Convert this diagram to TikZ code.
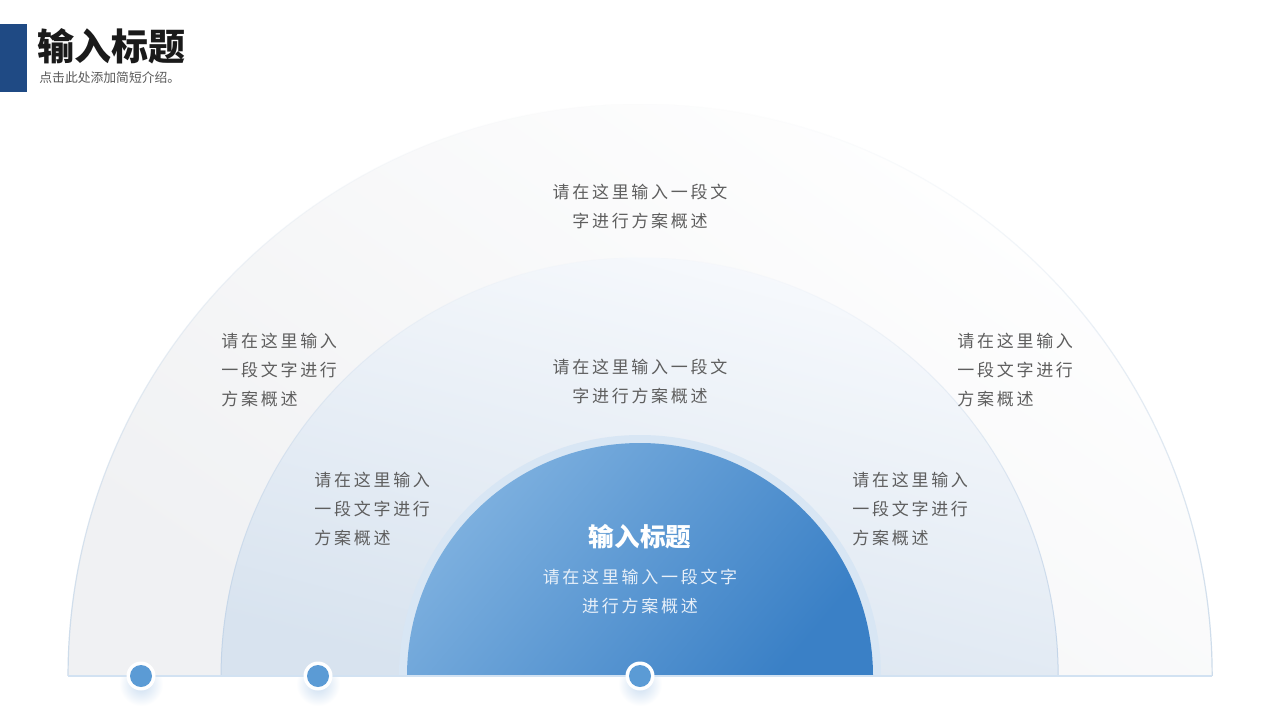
\documentclass[tikz,border=0pt]{standalone}
\usepackage{fontspec}
\setmainfont{Noto Sans CJK SC}
\newfontfamily\cjkspaced[LetterSpace=16]{Noto Sans CJK SC}
\usetikzlibrary{fadings}
\definecolor{barblue}{HTML}{1F4A84}
\definecolor{titleblack}{HTML}{1A1A1A}
\definecolor{subgray}{HTML}{595959}
\definecolor{bodygray}{HTML}{5E5E5E}
\definecolor{outergray}{HTML}{F0F1F3}
\definecolor{outerline}{HTML}{CCDBEA}
\definecolor{midtop}{HTML}{F8FAFD}
\definecolor{midbot}{HTML}{D8E3EF}
\definecolor{midline}{HTML}{C2D4E8}
\definecolor{ringblue}{HTML}{D8E6F4}
\definecolor{innerlight}{HTML}{80B2E0}
\definecolor{innerdark}{HTML}{3A80C6}
\definecolor{baseblue}{HTML}{D2E2F2}
\definecolor{dotblue}{HTML}{5B9BD5}
\definecolor{shadowblue}{HTML}{C9DCF0}
\definecolor{innertext}{HTML}{E8F0F9}
\tikzset{
  bodytext/.style={inner sep=0pt, text=bodygray, font=\cjkspaced\fontsize{8.5}{14.5}\selectfont},
  dotshadow/.style={inner color=shadowblue, outer color=white},
  dotring/.style={fill=white},
  dotcore/.style={fill=dotblue}
}
\begin{document}
\begin{tikzpicture}[x=0.5pt,y=0.5pt]
\useasboundingbox (0,0) rectangle (1280,720);
\fill[white] (0,0) rectangle (1280,720);

% header
\fill[barblue] (0,628) rectangle (27,696);
\node[anchor=west, inner sep=0pt, text=titleblack, font=\fontsize{18.5}{20}\selectfont\bfseries] (title) at (37,674) {输入标题};
\node[anchor=west, inner sep=0pt, text=subgray, font=\fontsize{6.4}{8}\selectfont] (subtitle) at (39,642) {点击此处添加简短介绍。};

% semicircles
\coordinate (c) at (640,44);
\shade[top color=white, bottom color=outergray, shading angle=-35] (68,44) arc[start angle=180,end angle=0,radius=572] -- cycle;
\draw[outerline, line width=0.6pt, path fading=north] (68,44) arc[start angle=180,end angle=0,radius=572];
\shade[top color=midtop, bottom color=midbot, shading angle=-15] (221,44) arc[start angle=180,end angle=0,radius=418.5] -- cycle;
\draw[midline, line width=0.5pt, path fading=north] (221,44) arc[start angle=180,end angle=0,radius=418.5];
\fill[ringblue] (399,44) arc[start angle=180,end angle=0,radius=241] -- cycle;
\shade[top color=innerlight, bottom color=innerdark, shading angle=50] (407,44) arc[start angle=180,end angle=0,radius=233] -- cycle;

% dot shadows (below the baseline only)
\begin{scope}
  \clip (0,0) rectangle (1280,44);
  \shade[dotshadow] (141,36) circle (22);
  \shade[dotshadow] (318,36) circle (22);
  \shade[dotshadow] (640,36) circle (22);
\end{scope}

% baseline
\draw[baseblue, line width=1pt] (68,44) -- (1212,44);

% dots
\foreach \n/\px in {d1/141, d2/318, d3/640} {
  \fill[dotring] (\px,44) circle (14.5);
  \fill[dotcore] (\px,44) circle (11);
}

% texts
\node[bodytext, anchor=north, align=center] (ttop) at (640,536.5) {请在这里输入一段文\\字进行方案概述};
\node[bodytext, anchor=north, align=center] (tmid) at (640,361.5) {请在这里输入一段文\\字进行方案概述};
\node[bodytext, anchor=north west, align=left] (tol) at (221,387.5) {请在这里输入\\一段文字进行\\方案概述};
\node[bodytext, anchor=north west, align=left] (tor) at (957,387.5) {请在这里输入\\一段文字进行\\方案概述};
\node[bodytext, anchor=north west, align=left] (tml) at (314,248.5) {请在这里输入\\一段文字进行\\方案概述};
\node[bodytext, anchor=north west, align=left] (tmr) at (852,248.5) {请在这里输入\\一段文字进行\\方案概述};

\node[inner sep=0pt, text=white, font=\fontsize{12.8}{14}\selectfont\bfseries] (ctitle) at (640,183) {输入标题};
\node[bodytext, text=innertext, anchor=north, align=center] (cbody) at (640,151.5) {请在这里输入一段文字\\进行方案概述};
\end{tikzpicture}
\end{document}
